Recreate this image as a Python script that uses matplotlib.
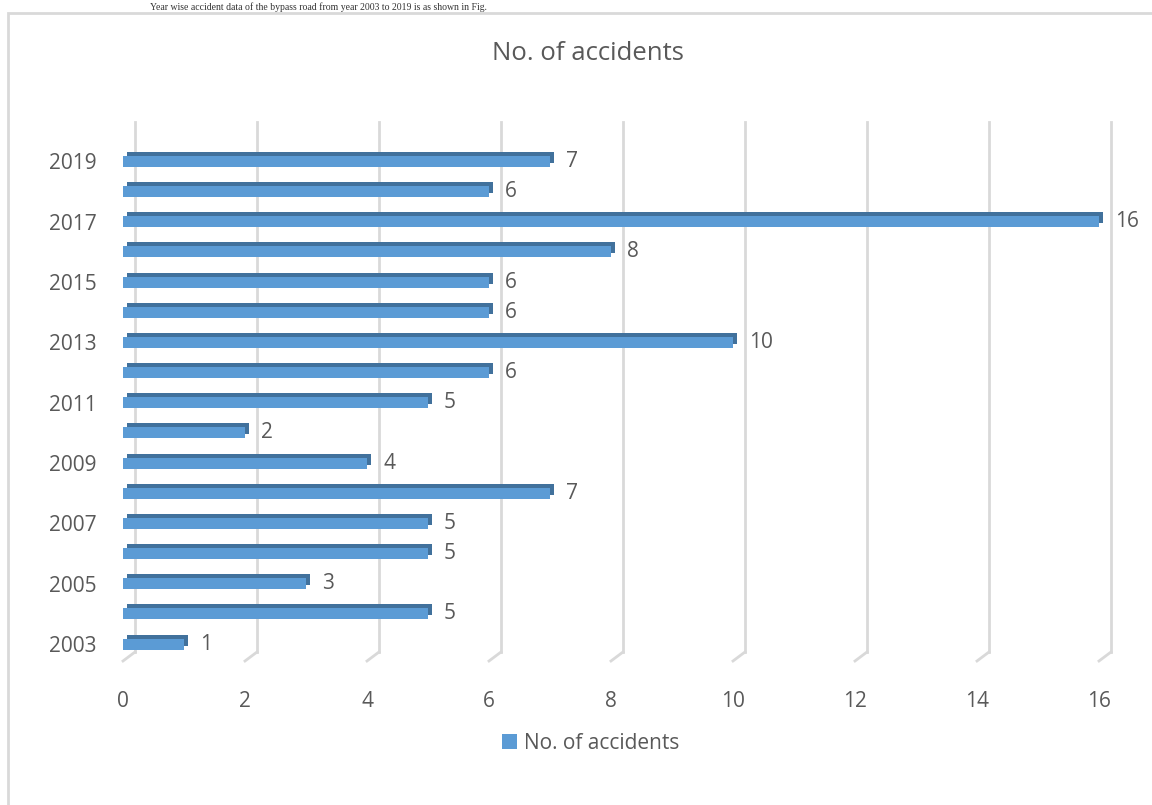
import matplotlib
matplotlib.use("Agg")
import matplotlib.pyplot as plt
from matplotlib.patches import Rectangle
from matplotlib.transforms import offset_copy

years = [2003, 2004, 2005, 2006, 2007, 2008, 2009, 2010, 2011,
         2012, 2013, 2014, 2015, 2016, 2017, 2018, 2019]
accidents = [1, 5, 3, 5, 5, 7, 4, 2, 5, 6, 10, 6, 6, 8, 16, 6, 7]
xticks = [0, 2, 4, 6, 8, 10, 12, 14, 16]
title = "No. of accidents"
series_name = "No. of accidents"
caption = "Year wise accident data of the bypass road from year 2003 to 2019 is as shown in Fig."

W, H = 1152, 805
fig = plt.figure(figsize=(W / 100, H / 100), dpi=100)
fig.patch.set_facecolor("white")
FONT = "Open Sans"
TXT = "#595959"
FRONT = "#5B9BD5"
DARK = "#41719C"
GRID = "#D9D9D9"
PT = 0.72  # points per pixel at dpi 100

# outer chart frame (extends past right/bottom edge)
fig.patches.append(Rectangle((8 / W, -0.05), 1.2, (H - 13) / H + 0.05,
                             transform=fig.transFigure, fill=False,
                             edgecolor=GRID, linewidth=2))
# caption text line above the frame
fig.text(150 / W, 1 - 2 / H, caption, family="Liberation Serif", fontsize=7,
         color="#333333", va="top", ha="left")

# axes geometry in pixels
x0_px, x16_px = 123, 1099
ybot_px, ytop_px = 661, 131
ax = fig.add_axes([x0_px / W, (H - ybot_px) / H, (x16_px - x0_px) / W,
                   (ybot_px - ytop_px) / H])
ax.set_facecolor("none")
ax.set_xlim(0, 16)
pitch = 30.16
c0 = 644
ylo = -(ybot_px - c0) / pitch
yhi = ylo + (ybot_px - ytop_px) / pitch
ax.set_ylim(ylo, yhi)
for s in ax.spines.values():
    s.set_visible(False)

pos = list(range(len(years)))
ppu_x = (x16_px - x0_px) / 16
ppu_y = pitch
dx, dy = 12, 9  # depth offset of back wall in px

# gridlines (back wall + floor diagonal)
back = offset_copy(ax.transData, fig=fig, x=dx * PT, y=dy * PT, units="points")
for v in xticks:
    ax.plot([v, v], [ylo, yhi], color=GRID, lw=2, transform=back,
            clip_on=False, zorder=0)
    ax.plot([v, v + dx / ppu_x], [ylo, ylo + dy / ppu_y], color=GRID, lw=2,
            clip_on=False, zorder=0)

bh = 11 / pitch
depth = offset_copy(ax.transData, fig=fig, x=4 * PT, y=4 * PT, units="points")
ax.barh(pos, accidents, height=bh, color=DARK, transform=depth, zorder=2,
        clip_on=False)
bars = ax.barh(pos, accidents, height=bh, color=FRONT, zorder=3, clip_on=False,
               label=series_name)

for p, v in zip(pos, accidents):
    ax.annotate(str(v), (v, p), xytext=(16 * PT, 0), textcoords="offset points",
                ha="left", va="center", fontsize=15, color=TXT, family=FONT)

ax.set_yticks(pos[::2])
ax.set_yticklabels([str(y) for y in years[::2]])
ax.set_xticks(xticks)
ax.set_xticklabels([str(v) for v in xticks])
ax.tick_params(axis="both", length=0, labelsize=15, labelcolor=TXT)
ax.tick_params(axis="y", pad=26 * PT)
ax.tick_params(axis="x", pad=30 * PT)
for lab in ax.get_xticklabels() + ax.get_yticklabels():
    lab.set_family(FONT)

fig.text(588 / W, 1 - 54 / H, title, ha="center", va="center", fontsize=18.5,
         color=TXT, family=FONT)

leg = fig.legend(handles=[bars], labels=[series_name], loc="center",
                 bbox_to_anchor=(591 / W, 1 - 743 / H), frameon=False,
                 prop={"family": FONT, "size": 15}, handlelength=0.7,
                 handleheight=0.7, handletextpad=0.35)
for t in leg.get_texts():
    t.set_color(TXT)

fig.savefig("out.png", dpi=100)
